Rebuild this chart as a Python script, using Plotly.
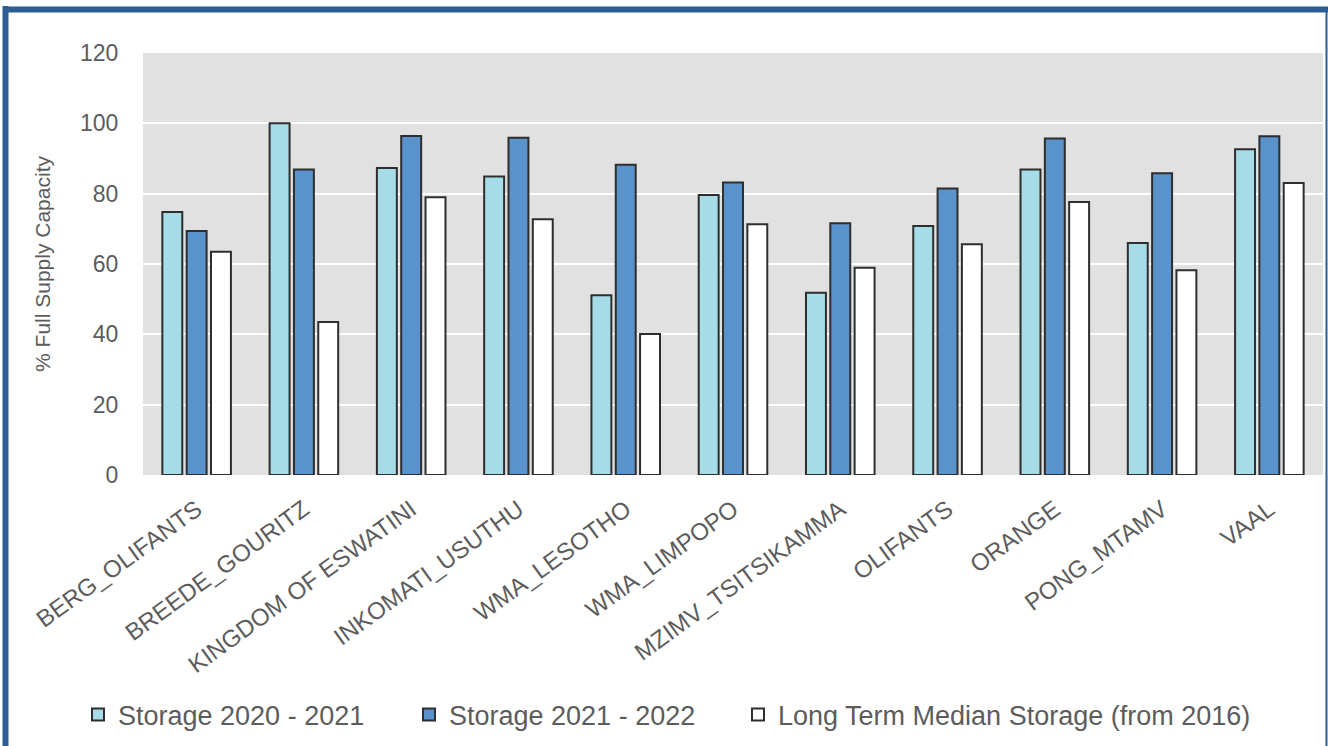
import plotly.graph_objects as go

categories = ["BERG_OLIFANTS", "BREEDE_GOURITZ", "KINGDOM OF ESWATINI", "INKOMATI_USUTHU",
              "WMA_LESOTHO", "WMA_LIMPOPO", "MZIMV_TSITSIKAMMA", "OLIFANTS", "ORANGE",
              "PONG_MTAMV", "VAAL"]
storage_2020_2021 = [74.8, 100.0, 87.3, 84.9, 51.1, 79.6, 51.8, 70.8, 86.9, 66.0, 92.6]
storage_2021_2022 = [69.4, 86.9, 96.4, 95.9, 88.2, 83.2, 71.6, 81.5, 95.7, 85.8, 96.3]
long_term_median = [63.5, 43.5, 79.0, 72.7, 40.1, 71.3, 58.9, 65.6, 77.6, 58.2, 83.0]

series_names = ["Storage 2020 - 2021", "Storage 2021 - 2022", "Long Term Median Storage (from 2016)"]
series_colors = ["#a6dbe8", "#5a92cb", "#ffffff"]
y_ticks = [0, 20, 40, 60, 80, 100, 120]

FONT = "Liberation Sans, Arial, sans-serif"
TEXT = "#5c5c5c"

# plot area in pixels: left 143, right 1323, top 53, bottom 475 (fig 1328x746)
L, R, T, B = 143, 1323, 53, 475
W, H = R - L, B - T
def px(xp): return (xp - L) / W
def py(yp): return (B - yp) / H

legend_ids = ["legend", "legend2", "legend3"]
legend_x = [78, 409, 738]

fig = go.Figure()
for name, vals, col, lid in zip(series_names, [storage_2020_2021, storage_2021_2022, long_term_median],
                                series_colors, legend_ids):
    fig.add_trace(go.Bar(
        x=categories, y=vals, name=name, legend=lid,
        marker=dict(color=col, line=dict(color="#2e2e2e", width=2)),
    ))

border = "#2d5e93"
shapes = [
    dict(type="line", xref="paper", yref="paper", x0=px(5.5), x1=px(5.5), y0=py(6), y1=py(760),
         line=dict(color=border, width=6)),
    dict(type="line", xref="paper", yref="paper", x0=px(3), x1=px(1328), y0=py(9.5), y1=py(9.5),
         line=dict(color=border, width=6)),
    dict(type="line", xref="paper", yref="paper", x0=px(1326.5), x1=px(1326.5), y0=py(7), y1=py(760),
         line=dict(color=border, width=2)),
]

legend_common = dict(orientation="h", xanchor="left", yanchor="middle", y=py(715),
                     font=dict(size=27, family=FONT, color=TEXT), itemwidth=30,
                     bgcolor="rgba(0,0,0,0)")

fig.update_layout(
    width=1328, height=746,
    margin=dict(l=L, r=1328 - R, t=T, b=746 - B),
    paper_bgcolor="white",
    plot_bgcolor="#e1e1e1",
    barmode="group",
    bargap=0.32,
    bargroupgap=0.18,
    font=dict(family=FONT, color=TEXT),
    showlegend=True,
    legend=dict(x=px(legend_x[0]), **legend_common),
    legend2=dict(x=px(legend_x[1]), **legend_common),
    legend3=dict(x=px(legend_x[2]), **legend_common),
    shapes=shapes,
)
fig.update_xaxes(
    tickangle=-36, tickfont=dict(size=24, family=FONT, color=TEXT),
    showgrid=False, showline=False, zeroline=False,
    ticks="outside", ticklen=10, tickcolor="rgba(0,0,0,0)",
)
fig.update_yaxes(
    range=[0, 120], tickvals=y_ticks, ticktext=[str(v) for v in y_ticks],
    tickfont=dict(size=23, family=FONT, color=TEXT),
    showgrid=True, gridcolor="white", gridwidth=2, zeroline=False, showline=False,
    ticks="outside", ticklen=19, tickcolor="rgba(0,0,0,0)",
    title=dict(text="% Full Supply Capacity", font=dict(size=21, family=FONT, color=TEXT), standoff=23),
)

fig.write_html("out.html", config={"displayModeBar": False},
               post_script="document.body.style.margin='0';document.body.style.overflow='hidden';")
